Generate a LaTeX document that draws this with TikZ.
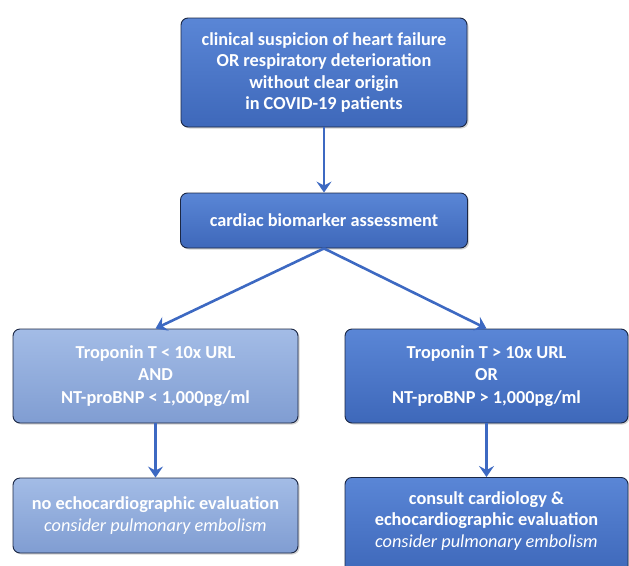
\documentclass[tikz,border=0pt]{standalone}
\usepackage{fontspec}
\setmainfont{Carlito}
\usetikzlibrary{arrows.meta,shadows}
\definecolor{dblue}{HTML}{4472C4}
\definecolor{dbluetop}{HTML}{5A86D6}
\definecolor{dbluebot}{HTML}{3E68BA}
\definecolor{lblue}{HTML}{8EAADC}
\definecolor{lbluetop}{HTML}{A3BCE6}
\definecolor{lbluebot}{HTML}{809DD2}
\definecolor{edgec}{HTML}{1B2744}
\definecolor{arrowc}{HTML}{3D69C2}
\tikzset{
  basebox/.style={rounded corners=7pt, draw=edgec, line width=0.9pt, align=center,
    text=white, inner sep=0pt,
    font=\bfseries\fontsize{18.3}{21.5}\selectfont,
    drop shadow={shadow xshift=1.5pt, shadow yshift=-1.5pt, opacity=0.35}},
  darkbox/.style={basebox, top color=dbluetop, bottom color=dbluebot},
  lightbox/.style={basebox, top color=lbluetop, bottom color=lbluebot},
  arr/.style={draw=arrowc, line width=2.6pt,
    -{Stealth[length=11pt, width=15pt, inset=4pt]}}
}
\begin{document}
\begin{tikzpicture}[x=1pt,y=-1pt]
\useasboundingbox (0,0) rectangle (629,565);
\clip (0,0) rectangle (629,565);
\node[darkbox, minimum width=286pt, minimum height=109pt] (top) at (324,72.5)
  {clinical suspicion of heart failure\\OR respiratory deterioration\\without clear origin\\in COVID-19 patients};
\node[darkbox, minimum width=287pt, minimum height=55pt] (bio) at (324,220.5)
  {cardiac biomarker assessment};
\node[lightbox, minimum width=285pt, minimum height=94pt] (low) at (155.5,376)
  {Troponin T < 10x URL\\[1pt]AND\\[1pt]NT-proBNP < 1,000pg/ml};
\node[darkbox, minimum width=283pt, minimum height=94pt] (high) at (486.5,376)
  {Troponin T > 10x URL\\[1pt]OR\\[1pt]NT-proBNP > 1,000pg/ml};
\node[lightbox, minimum width=285pt, minimum height=75pt] (noecho) at (155.5,515.5)
  {no echocardiographic evaluation\\\textit{\mdseries consider pulmonary embolism}};
\node[darkbox, minimum width=283pt, minimum height=96pt, anchor=north] (consult) at (486.5,477)
  {};
\node[align=center, text=white, font=\bfseries\fontsize{18.3}{21.5}\selectfont, inner sep=0pt] (consulttxt) at (486.5,521)
  {consult cardiology \&\\echocardiographic evaluation\\\textit{\mdseries consider pulmonary embolism}};
\draw[arr] (top.south) -- (bio.north);
\draw[arr] (bio.south) -- (low.north);
\draw[arr] (bio.south) -- (high.north);
\draw[arr] (low.south) -- (noecho.north);
\draw[arr] (high.south) -- (consult.north);
\end{tikzpicture}
\end{document}
